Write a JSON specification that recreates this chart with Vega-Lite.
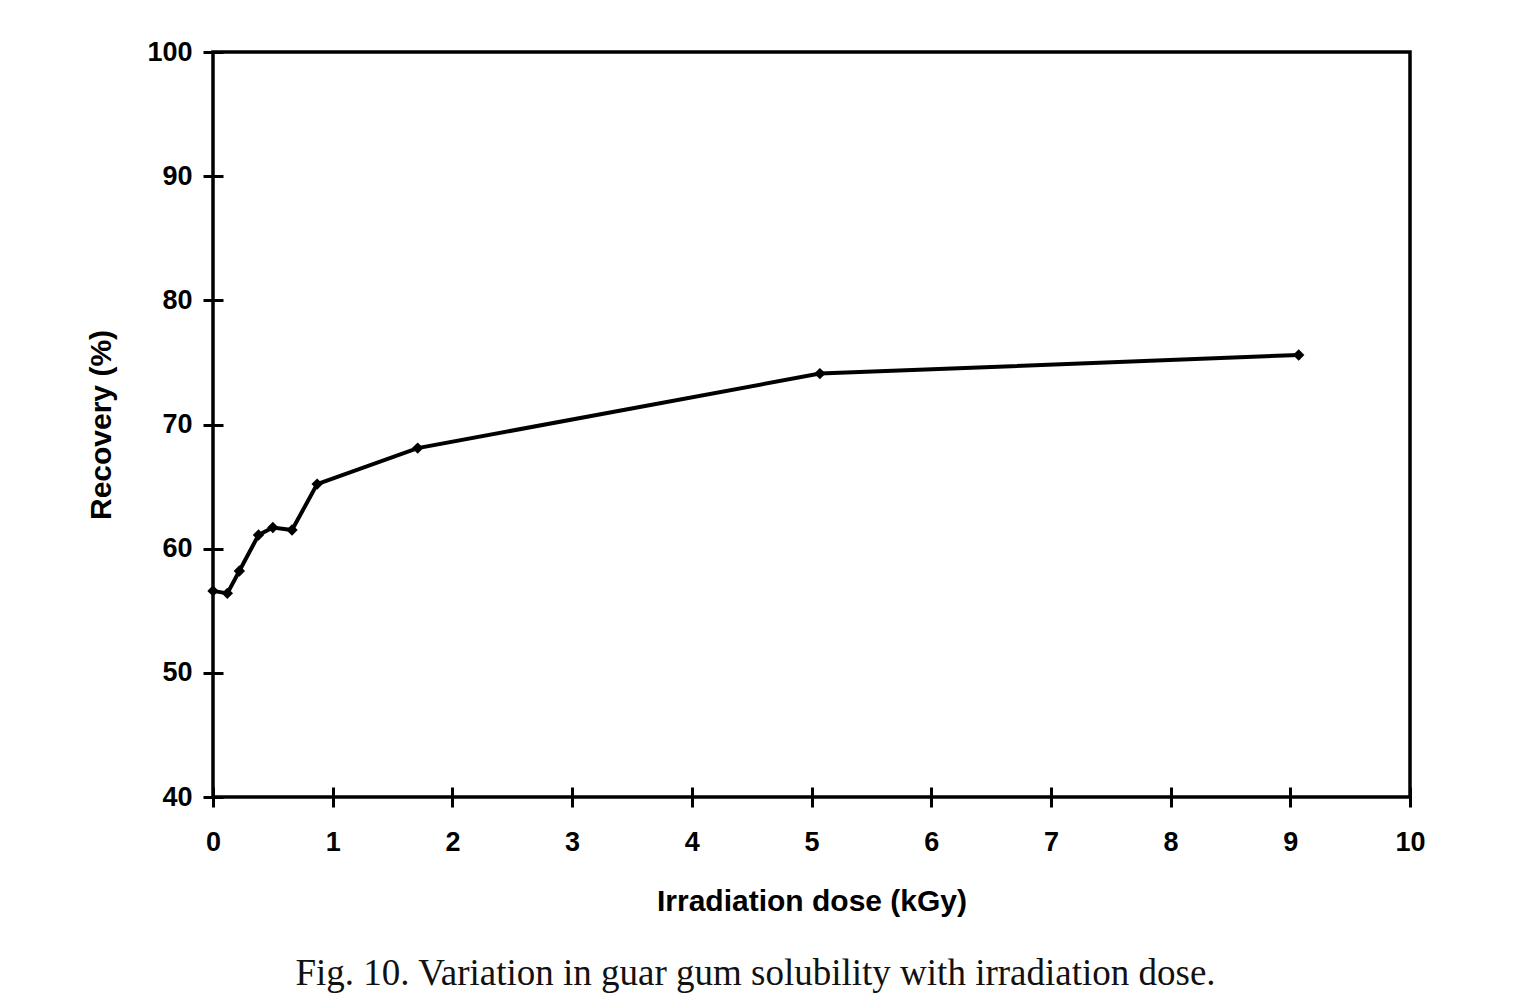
{
  "$schema": "https://vega.github.io/schema/vega-lite/v6.json",
  "autosize": {"type": "none"},
  "width": 1197,
  "height": 745,
  "padding": {"left": 213, "top": 52, "right": 120, "bottom": 211},
  "background": "white",
  "title": {
    "text": "Fig. 10. Variation in guar gum solubility with irradiation dose.",
    "orient": "bottom",
    "anchor": "middle",
    "dx": -56,
    "offset": 40,
    "font": "Liberation Serif",
    "fontSize": 37,
    "fontWeight": "normal",
    "color": "#111"
  },
  "config": {
    "view": {"stroke": "black", "strokeWidth": 3.5},
    "axis": {
      "domain": false,
      "grid": false,
      "ticks": true,
      "tickColor": "black",
      "tickWidth": 3,
      "labelFont": "Liberation Sans",
      "labelFontWeight": "bold",
      "labelFontSize": 27,
      "labelColor": "black",
      "titleFont": "Liberation Sans",
      "titleFontWeight": "bold",
      "titleFontSize": 30,
      "titleColor": "black"
    }
  },
  "data": {
    "values": [
      {"dose": 0.0, "recovery": 56.6},
      {"dose": 0.12, "recovery": 56.4},
      {"dose": 0.22, "recovery": 58.2},
      {"dose": 0.38, "recovery": 61.1},
      {"dose": 0.5, "recovery": 61.7},
      {"dose": 0.66, "recovery": 61.5},
      {"dose": 0.87, "recovery": 65.2},
      {"dose": 1.71, "recovery": 68.1},
      {"dose": 5.07, "recovery": 74.1},
      {"dose": 9.07, "recovery": 75.6}
    ]
  },
  "layer": [
    {
      "mark": {"type": "line", "color": "black", "strokeWidth": 4, "clip": false},
      "encoding": {
        "x": {
          "field": "dose", "type": "quantitative",
          "scale": {"domain": [0, 10], "nice": false, "zero": false},
          "axis": {"values": [0,1,2,3,4,5,6,7,8,9,10], "format": "d", "title": "Irradiation dose (kGy)", "offset": -10, "tickSize": 20, "zindex": 1, "labelPadding": 22, "titlePadding": 31, "labelFlush": false}
        },
        "y": {
          "field": "recovery", "type": "quantitative",
          "scale": {"domain": [40, 100], "nice": false, "zero": false},
          "axis": {"values": [40,50,60,70,80,90,100], "format": "d", "title": "Recovery (%)", "offset": -10, "tickSize": 20, "zindex": 1, "labelPadding": 11, "titlePadding": 30, "labelFlush": false}
        }
      }
    },
    {
      "mark": {"type": "point", "shape": "diamond", "filled": true, "color": "black", "size": 130, "opacity": 1},
      "encoding": {
        "x": {"field": "dose", "type": "quantitative"},
        "y": {"field": "recovery", "type": "quantitative"}
      }
    }
  ]
}
